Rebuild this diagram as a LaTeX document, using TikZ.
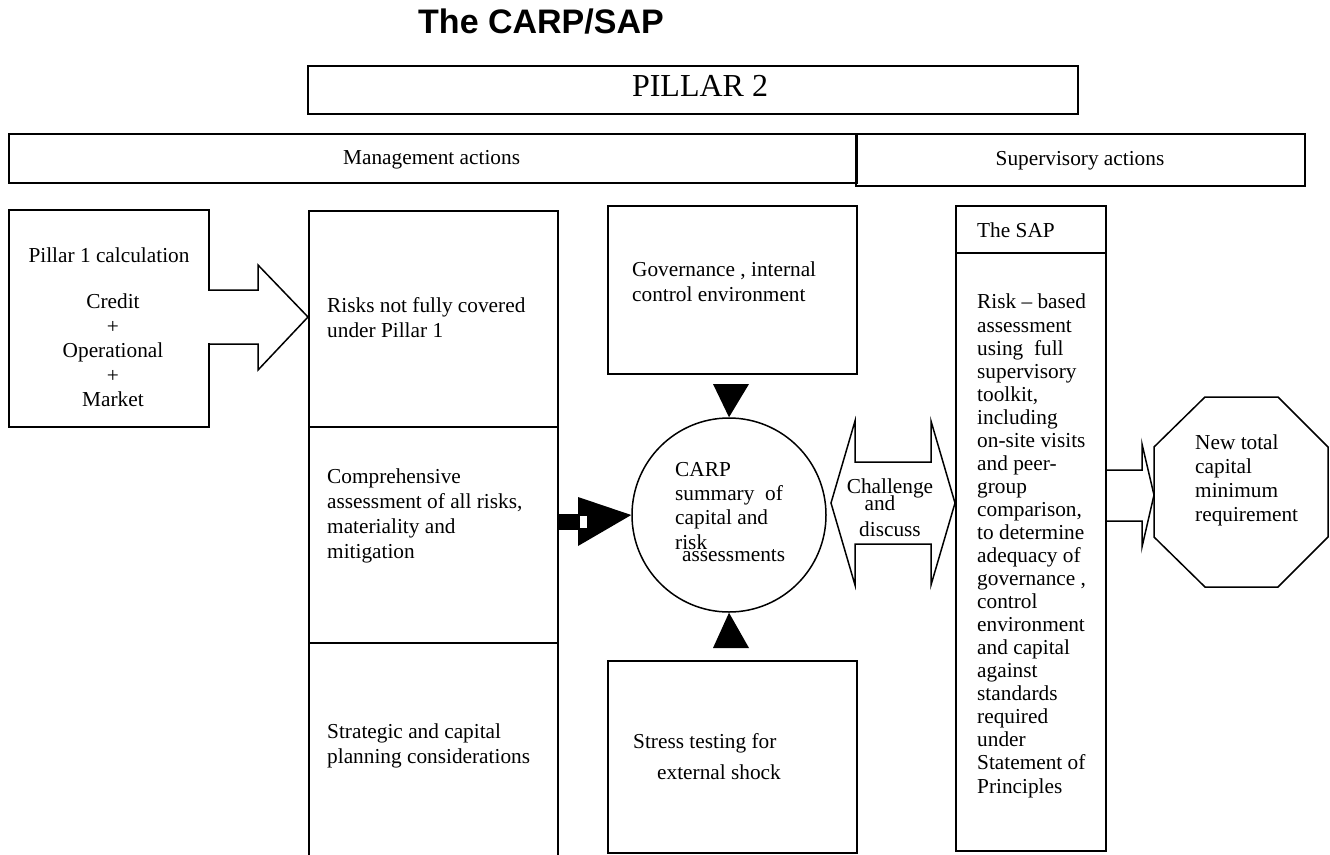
\documentclass[tikz,border=0pt]{standalone}
\usepackage{fontspec}
\setmainfont{Liberation Serif}
\newfontfamily\headsans{Liberation Sans}
\usetikzlibrary{calc}
\tikzset{
  ln/.style={line width=1.5pt, line join=miter},
  box/.style={draw, line width=1.5pt, rectangle, inner sep=0pt, anchor=north west},
  body/.style={inner sep=0pt, font=\fontsize{21.3pt}{24.5pt}\selectfont},
  blk/.style={body, align=left, anchor=north west},
}
\begin{document}
\begin{tikzpicture}[x=1pt,y=-1pt]
\useasboundingbox (0,0) rectangle (1330,854);
\clip (0,0) rectangle (1330,854);
% title
\node[font=\headsans\bfseries\fontsize{34pt}{40pt}\selectfont, anchor=base, inner sep=0pt] (title) at (541,33) {The CARP/SAP};
% header boxes
\node[box, minimum width=770pt, minimum height=48pt] (p2) at (307,65) {};
\node[body, font=\fontsize{32pt}{36pt}\selectfont, anchor=base] (p2t) at (700,96) {PILLAR 2};
\node[box, minimum width=848pt, minimum height=49pt] (mgmt) at (8,133) {};
\node[body, anchor=base west] (mgmtt) at (343,164) {Management actions};
\node[box, minimum width=449pt, minimum height=52pt] (sup) at (855,133) {};
\node[body, anchor=base] (supt) at (1080,165) {Supervisory actions};
% pillar 1 box
\node[box, minimum width=200pt, minimum height=217pt] (p1) at (8,209) {};
\node[body, anchor=base] (p1t) at (109,262) {Pillar 1 calculation};
\node[body, align=center, anchor=north] (p1l) at (113,294) {Credit\\+\\Operational\\+\\Market};
% left column
\node[box, minimum width=249pt, minimum height=216pt] (risks) at (308,210) {};
\node[box, minimum width=249pt, minimum height=216pt] (comp) at (308,426) {};
\node[box, minimum width=249pt, minimum height=230pt] (strat) at (308,642) {};
\node[blk, font=\fontsize{21.3pt}{25pt}\selectfont] (riskst) at (327,297) {Risks not fully covered\\under Pillar 1};
\node[blk, font=\fontsize{21.3pt}{24.7pt}\selectfont] (compt) at (327,469) {Comprehensive\\assessment of all risks,\\materiality and\\mitigation};
\node[blk, font=\fontsize{21.3pt}{25pt}\selectfont] (stratt) at (327,724) {Strategic and capital\\planning considerations};
% middle column
\node[box, minimum width=249pt, minimum height=168pt] (gov) at (607,205) {};
\node[blk, font=\fontsize{21.3pt}{25pt}\selectfont] (govt) at (632,262) {Governance , internal\\control environment};
\node[box, minimum width=249pt, minimum height=192pt] (stress) at (607,660) {};
\node[body, anchor=base west] (stresst1) at (633,748) {Stress testing for};
\node[body, anchor=base west] (stresst2) at (657,779) {external shock};
\node[draw, ln, circle, minimum size=194pt, inner sep=0pt] (carp) at (729,515) {};
\node[blk, font=\fontsize{21.3pt}{24.3pt}\selectfont] (carpt) at (675,462) {CARP\\summary\ \ of\\capital and\\risk};
\node[body, anchor=base west] (carpt2) at (682,561) {assessments};
% SAP
\node[box, minimum width=150pt, minimum height=47pt] (saph) at (955,205) {};
\node[body, anchor=base west] (sapht) at (977,237) {The SAP};
\node[box, minimum width=150pt, minimum height=598pt] (sapb) at (955,252) {};
\node[blk, font=\fontsize{21.3pt}{23.05pt}\selectfont] (sapbt) at (977,294) {Risk -- based\\assessment\\using\ \ full\\supervisory\\toolkit,\\including\\on-site visits\\and peer-\\group\\comparison,\\to determine\\adequacy of\\governance ,\\control\\environment\\and capital\\against\\standards\\required\\under\\Statement of\\Principles};
% octagon
\coordinate (oct) at (1241,492);
\draw[ln] (1205,397) -- (1278,397) -- (1328,447) -- (1328,537) -- (1278,587) -- (1205,587) -- (1154,537) -- (1154,447) -- cycle;
\node[blk, font=\fontsize{21.3pt}{24pt}\selectfont] (octt) at (1195,435) {New total\\capital\\minimum\\requirement};
% pillar 1 -> risks block arrow
\fill[white] (205,291) rectangle (211,343);
\draw[ln] (p1.east |- 0,290) -- (258,290) -- (258,265) -- (risks.west |- 0,317) -- (258,370) -- (258,344) -- (p1.east |- 0,344);
% comprehensive -> CARP thick arrow
\fill (comp.east |- 0,514) rectangle (580,530);
\fill (578,497) -- (carp.west) -- (578,546) -- cycle;
\fill[white] (580,516) rectangle (587,528);
% governance / stress triangles
\fill (713,384) -- (749,384) -- (carp.north) -- cycle;
\fill (713,648) -- (749,648) -- (carp.south) -- cycle;
% challenge and discuss double arrow
\draw[ln] (831,503) -- (855,421) -- (855,462) -- (931,462) -- (931,421) -- (sapb.west |- 0,503) -- (931,585) -- (931,544) -- (855,544) -- (855,585) -- cycle;
\node[body, anchor=base] (ch1) at (890,493) {Challenge};
\node[body, anchor=base] (ch2) at (880,510) {and};
\node[body, anchor=base] (ch3) at (890,536) {discuss};
% SAP -> octagon arrow
\draw[ln] (sapb.east |- 0,470) -- (1142,470) -- (1142,444) -- (1154,495) -- (1142,547) -- (1142,521) -- (sapb.east |- 0,521);
\end{tikzpicture}
\end{document}
